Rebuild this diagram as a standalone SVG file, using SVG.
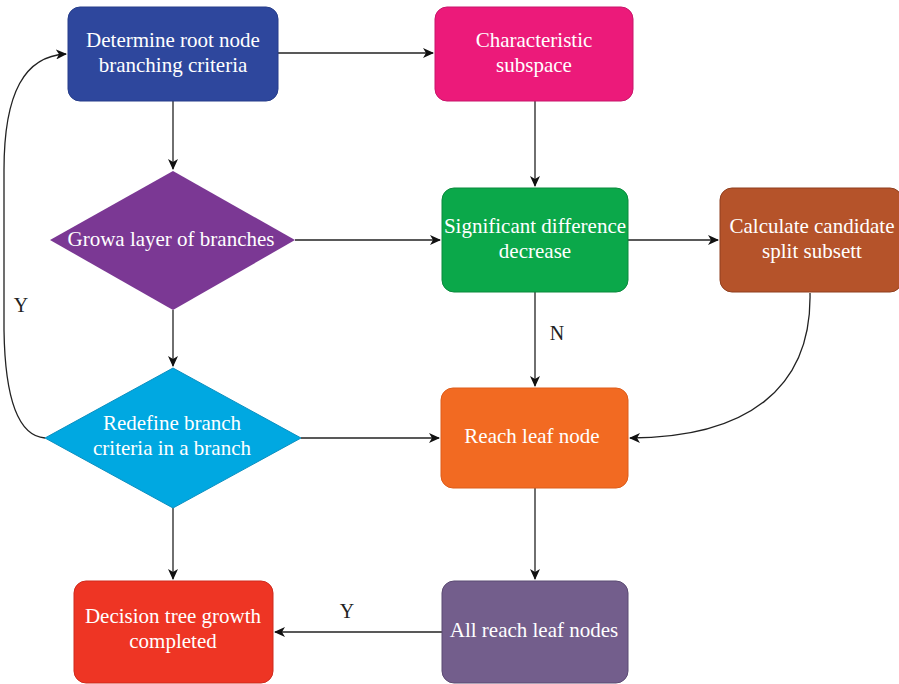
<svg xmlns="http://www.w3.org/2000/svg" width="899" height="684" viewBox="0 0 899 684">
<defs>
<marker id="arr" markerWidth="12" markerHeight="10" refX="10" refY="5" orient="auto" markerUnits="userSpaceOnUse">
<path d="M0,0 L11,5 L0,10 L3,5 z" fill="#111"/>
</marker>
<style>
.t{font-family:"Liberation Serif","Times New Roman",serif;font-size:21px;fill:#fff;text-anchor:middle}
.l{font-family:"Liberation Serif","Times New Roman",serif;font-size:20px;fill:#222;text-anchor:middle}
.c{fill:none;stroke:#222;stroke-width:1.3;marker-end:url(#arr)}
</style>
</defs>
<rect width="899" height="684" fill="#fff"/>
<g id="connectors">
<path class="c" d="M278,53 H433"/>
<path class="c" d="M173,101 V169"/>
<path class="c" d="M535,101 V186"/>
<path class="c" d="M295,240 H440"/>
<path class="c" d="M628,240 H718"/>
<path class="c" d="M535,292 V386"/>
<path class="c" d="M810,293 C812,390 745,438 630,438"/>
<path class="c" d="M173,310 V366"/>
<path class="c" d="M301,438 H439"/>
<path class="c" d="M45,438 C18,436 5,400 4,330 L4,170 C4,92 25,56 66,54"/>
<path class="c" d="M173,508 V579"/>
<path class="c" d="M535,488 V579"/>
<path class="c" d="M442,632 H275"/>
<text class="l" x="21" y="312">Y</text>
<text class="l" x="557" y="340">N</text>
<text class="l" x="347" y="618">Y</text>
</g>
<g id="n1"><rect x="68" y="7" width="210" height="94" rx="12" fill="#2E479D" stroke="#263d8a"/>
<text class="t" x="173" y="47">Determine root node</text><text class="t" x="173" y="72">branching criteria</text></g>
<g id="n2"><rect x="435" y="7" width="198" height="94" rx="12" fill="#EC1A7A" stroke="#c8156a"/>
<text class="t" x="534" y="47">Characteristic</text><text class="t" x="534" y="72">subspace</text></g>
<g id="n3"><polygon points="173,171 295,240 173,310 50,240" fill="#7B3894"/>
<text class="t" x="171" y="246">Growa layer of branches</text></g>
<g id="n4"><rect x="442" y="188" width="186" height="104" rx="12" fill="#0BA84A" stroke="#0a8a3d"/>
<text class="t" x="535" y="233">Significant difference</text><text class="t" x="535" y="258">decrease</text></g>
<g id="n5"><rect x="720" y="188" width="182" height="104" rx="12" fill="#B5532A" stroke="#8f3f1e"/>
<text class="t" x="812" y="233">Calculate candidate</text><text class="t" x="812" y="258">split subsett</text></g>
<g id="n6"><polygon points="173,368 301,438 173,508 45,438" fill="#00A8E1" stroke="#0a8fc0"/>
<text class="t" x="172" y="430">Redefine branch</text><text class="t" x="172" y="455">criteria in a branch</text></g>
<g id="n7"><rect x="441" y="388" width="187" height="100" rx="12" fill="#F26A22" stroke="#dd5c1a"/>
<text class="t" x="532" y="443">Reach leaf node</text></g>
<g id="n8"><rect x="74" y="581" width="199" height="102" rx="12" fill="#EE3524" stroke="#cf2a1c"/>
<text class="t" x="173" y="623">Decision tree growth</text><text class="t" x="173" y="648">completed</text></g>
<g id="n9"><rect x="442" y="581" width="186" height="102" rx="12" fill="#735E8C" stroke="#5b4a72"/>
<text class="t" x="534" y="637">All reach leaf nodes</text></g>
</svg>
